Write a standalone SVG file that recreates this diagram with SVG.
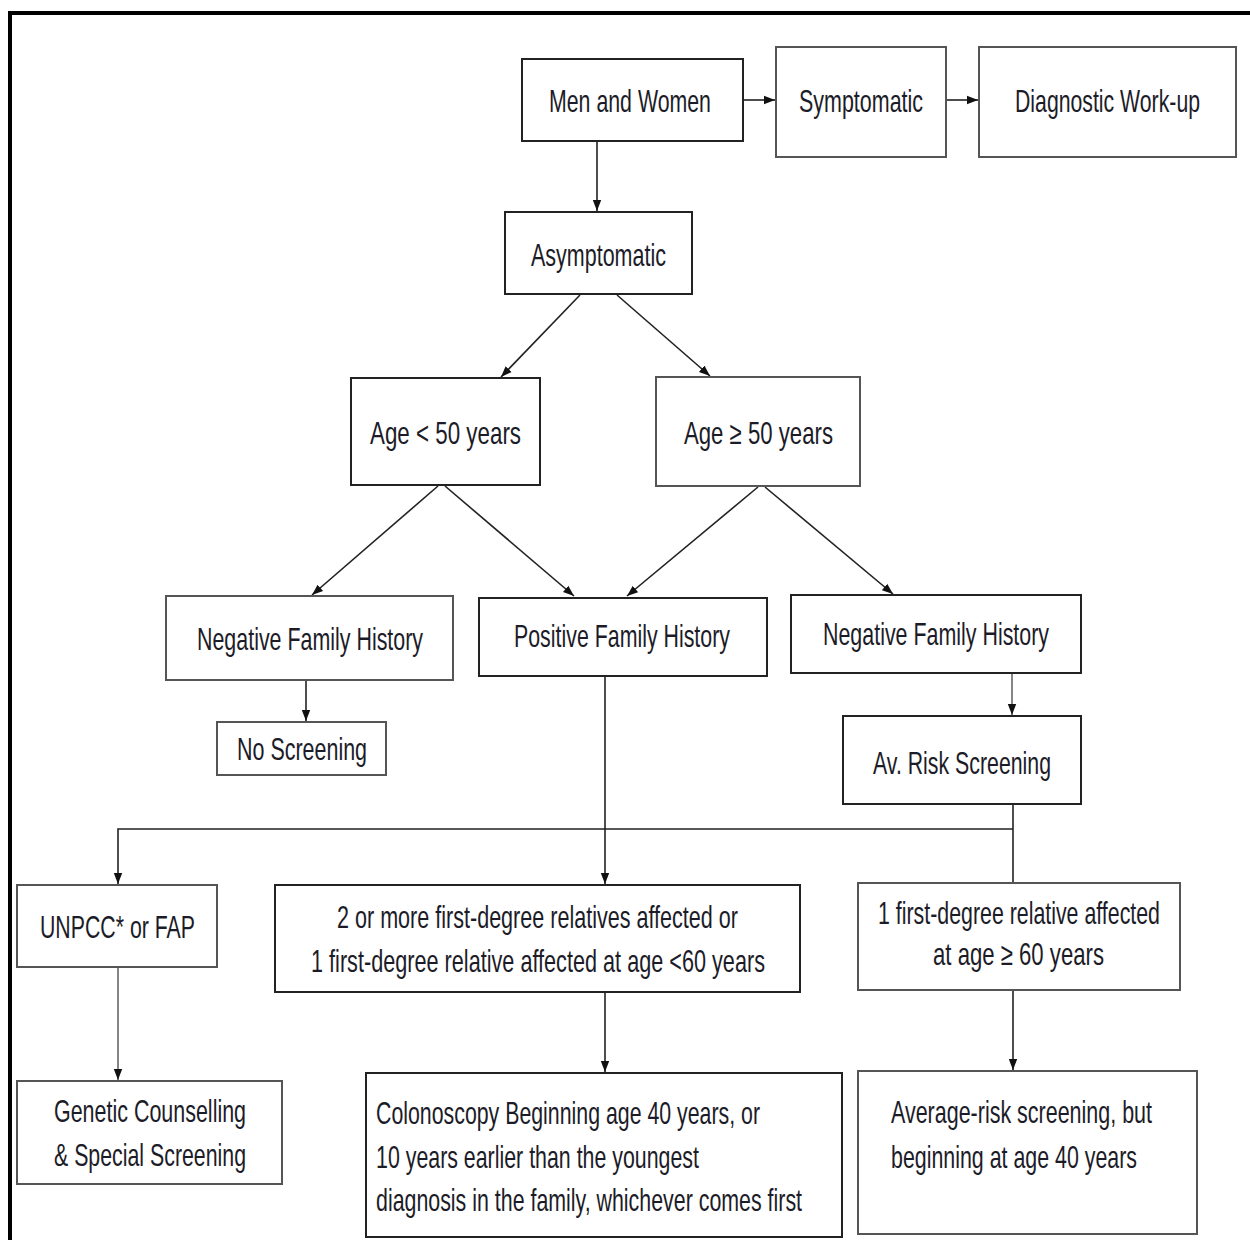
<svg xmlns="http://www.w3.org/2000/svg" width="1250" height="1240" viewBox="0 0 1250 1240">
<defs>
<marker id="ah" viewBox="0 0 10 10" refX="10" refY="5" markerWidth="11" markerHeight="11" markerUnits="userSpaceOnUse" orient="auto">
<path d="M0,1.2 L10,5 L0,8.8 Z" fill="#111"/>
</marker>
</defs>
<style>
.b{fill:#fff;stroke:#222;stroke-width:2}
.g{fill:#fff;stroke:#555;stroke-width:2}
text{font-family:"Liberation Sans",Arial,sans-serif;font-size:32px;fill:#1c1c28}
.c{fill:none;stroke:#222;stroke-width:1.6}
.cg{fill:none;stroke:#666;stroke-width:1.6}
</style>
<rect x="0" y="0" width="1250" height="1240" fill="#fff"/>
<path d="M10,1240 V13 H1250" fill="none" stroke="#000" stroke-width="4"/>

<g id="connectors">
<line class="c" x1="743" y1="100" x2="775" y2="100" marker-end="url(#ah)"/>
<line class="c" x1="946" y1="100" x2="978" y2="100" marker-end="url(#ah)"/>
<line class="c" x1="597" y1="141" x2="597" y2="211" marker-end="url(#ah)"/>
<line class="c" x1="580" y1="295" x2="501" y2="377" marker-end="url(#ah)"/>
<line class="c" x1="617" y1="295" x2="710" y2="376" marker-end="url(#ah)"/>
<line class="c" x1="438" y1="486" x2="312" y2="595" marker-end="url(#ah)"/>
<line class="c" x1="445" y1="486" x2="574" y2="596" marker-end="url(#ah)"/>
<line class="c" x1="758" y1="487" x2="627" y2="596" marker-end="url(#ah)"/>
<line class="c" x1="765" y1="487" x2="893" y2="594" marker-end="url(#ah)"/>
<line class="c" x1="306" y1="680" x2="306" y2="721" marker-end="url(#ah)"/>
<line class="cg" x1="1012" y1="673" x2="1012" y2="715" marker-end="url(#ah)"/>
<line class="c" x1="605" y1="676" x2="605" y2="884" marker-end="url(#ah)"/>
<line class="c" x1="1013" y1="804" x2="1013" y2="883"/>
<polyline class="c" points="1013,829 118,829 118,884" marker-end="url(#ah)"/>
<line class="cg" x1="118" y1="967" x2="118" y2="1080" marker-end="url(#ah)"/>
<line class="c" x1="605" y1="992" x2="605" y2="1072" marker-end="url(#ah)"/>
<line class="c" x1="1013" y1="990" x2="1013" y2="1070" marker-end="url(#ah)"/>
</g>

<g id="men-women"><rect class="b" x="522" y="59" width="221" height="82"/><text transform="translate(549,112) scale(0.68,1)" textLength="238.2" lengthAdjust="spacingAndGlyphs">Men and Women</text></g>
<g id="symptomatic"><rect class="g" x="776" y="47" width="170" height="110"/><text transform="translate(799,112) scale(0.68,1)" textLength="182.4" lengthAdjust="spacingAndGlyphs">Symptomatic</text></g>
<g id="diagnostic"><rect class="g" x="979" y="47" width="257" height="110"/><text transform="translate(1015,112) scale(0.68,1)" textLength="272.1" lengthAdjust="spacingAndGlyphs">Diagnostic Work-up</text></g>
<g id="asymptomatic"><rect class="b" x="505" y="212" width="187" height="82"/><text transform="translate(531,266) scale(0.68,1)" textLength="198.5" lengthAdjust="spacingAndGlyphs">Asymptomatic</text></g>
<g id="age-lt-50"><rect class="b" x="351" y="378" width="189" height="107"/><text transform="translate(370,444) scale(0.68,1)" textLength="222.1" lengthAdjust="spacingAndGlyphs">Age &lt; 50 years</text></g>
<g id="age-ge-50"><rect class="g" x="656" y="377" width="204" height="109"/><text transform="translate(684,444) scale(0.68,1)" textLength="219.1" lengthAdjust="spacingAndGlyphs">Age ≥ 50 years</text></g>
<g id="neg-fh-left"><rect class="g" x="166" y="596" width="287" height="84"/><text transform="translate(197,650) scale(0.68,1)" textLength="332.4" lengthAdjust="spacingAndGlyphs">Negative Family History</text></g>
<g id="pos-fh"><rect class="b" x="479" y="598" width="288" height="78"/><text transform="translate(514,647) scale(0.68,1)" textLength="317.6" lengthAdjust="spacingAndGlyphs">Positive Family History</text></g>
<g id="neg-fh-right"><rect class="b" x="791" y="595" width="290" height="78"/><text transform="translate(823,645) scale(0.68,1)" textLength="332.4" lengthAdjust="spacingAndGlyphs">Negative Family History</text></g>
<g id="no-screening"><rect class="g" x="217" y="722" width="169" height="53"/><text transform="translate(237,760) scale(0.68,1)" textLength="191.2" lengthAdjust="spacingAndGlyphs">No Screening</text></g>
<g id="av-risk"><rect class="b" x="843" y="716" width="238" height="88"/><text transform="translate(873,774) scale(0.68,1)" textLength="261.8" lengthAdjust="spacingAndGlyphs">Av. Risk Screening</text></g>
<g id="unpcc"><rect class="g" x="17" y="885" width="200" height="82"/><text transform="translate(40,938) scale(0.68,1)" textLength="227.9" lengthAdjust="spacingAndGlyphs">UNPCC* or FAP</text></g>
<g id="two-or-more"><rect class="b" x="275" y="885" width="525" height="107"/><text transform="translate(337,928) scale(0.68,1)" textLength="589.7" lengthAdjust="spacingAndGlyphs">2 or more first-degree relatives affected or</text><text transform="translate(311,972) scale(0.68,1)" textLength="667.6" lengthAdjust="spacingAndGlyphs">1 first-degree relative affected at age &lt;60 years</text></g>
<g id="one-first-degree"><rect class="g" x="858" y="883" width="322" height="107"/><text transform="translate(878,924) scale(0.68,1)" textLength="414.7" lengthAdjust="spacingAndGlyphs">1 first-degree relative affected</text><text transform="translate(933,965) scale(0.68,1)" textLength="251.5" lengthAdjust="spacingAndGlyphs">at age ≥ 60 years</text></g>
<g id="genetic"><rect class="g" x="17" y="1081" width="265" height="103"/><text transform="translate(54,1122) scale(0.68,1)" textLength="282.4" lengthAdjust="spacingAndGlyphs">Genetic Counselling</text><text transform="translate(54,1166) scale(0.68,1)" textLength="282.4" lengthAdjust="spacingAndGlyphs">&amp; Special Screening</text></g>
<g id="colonoscopy"><rect class="b" x="366" y="1073" width="476" height="164"/><text transform="translate(376,1124) scale(0.68,1)" textLength="564.7" lengthAdjust="spacingAndGlyphs">Colonoscopy Beginning age 40 years, or</text><text transform="translate(376,1168) scale(0.68,1)" textLength="475" lengthAdjust="spacingAndGlyphs">10 years earlier than the youngest</text><text transform="translate(376,1211) scale(0.68,1)" textLength="626.5" lengthAdjust="spacingAndGlyphs">diagnosis in the family, whichever comes first</text></g>
<g id="average-risk"><rect class="g" x="858" y="1071" width="339" height="163"/><text transform="translate(891,1123) scale(0.68,1)" textLength="383.8" lengthAdjust="spacingAndGlyphs">Average-risk screening, but</text><text transform="translate(891,1168) scale(0.68,1)" textLength="361.8" lengthAdjust="spacingAndGlyphs">beginning at age 40 years</text></g>
</svg>
